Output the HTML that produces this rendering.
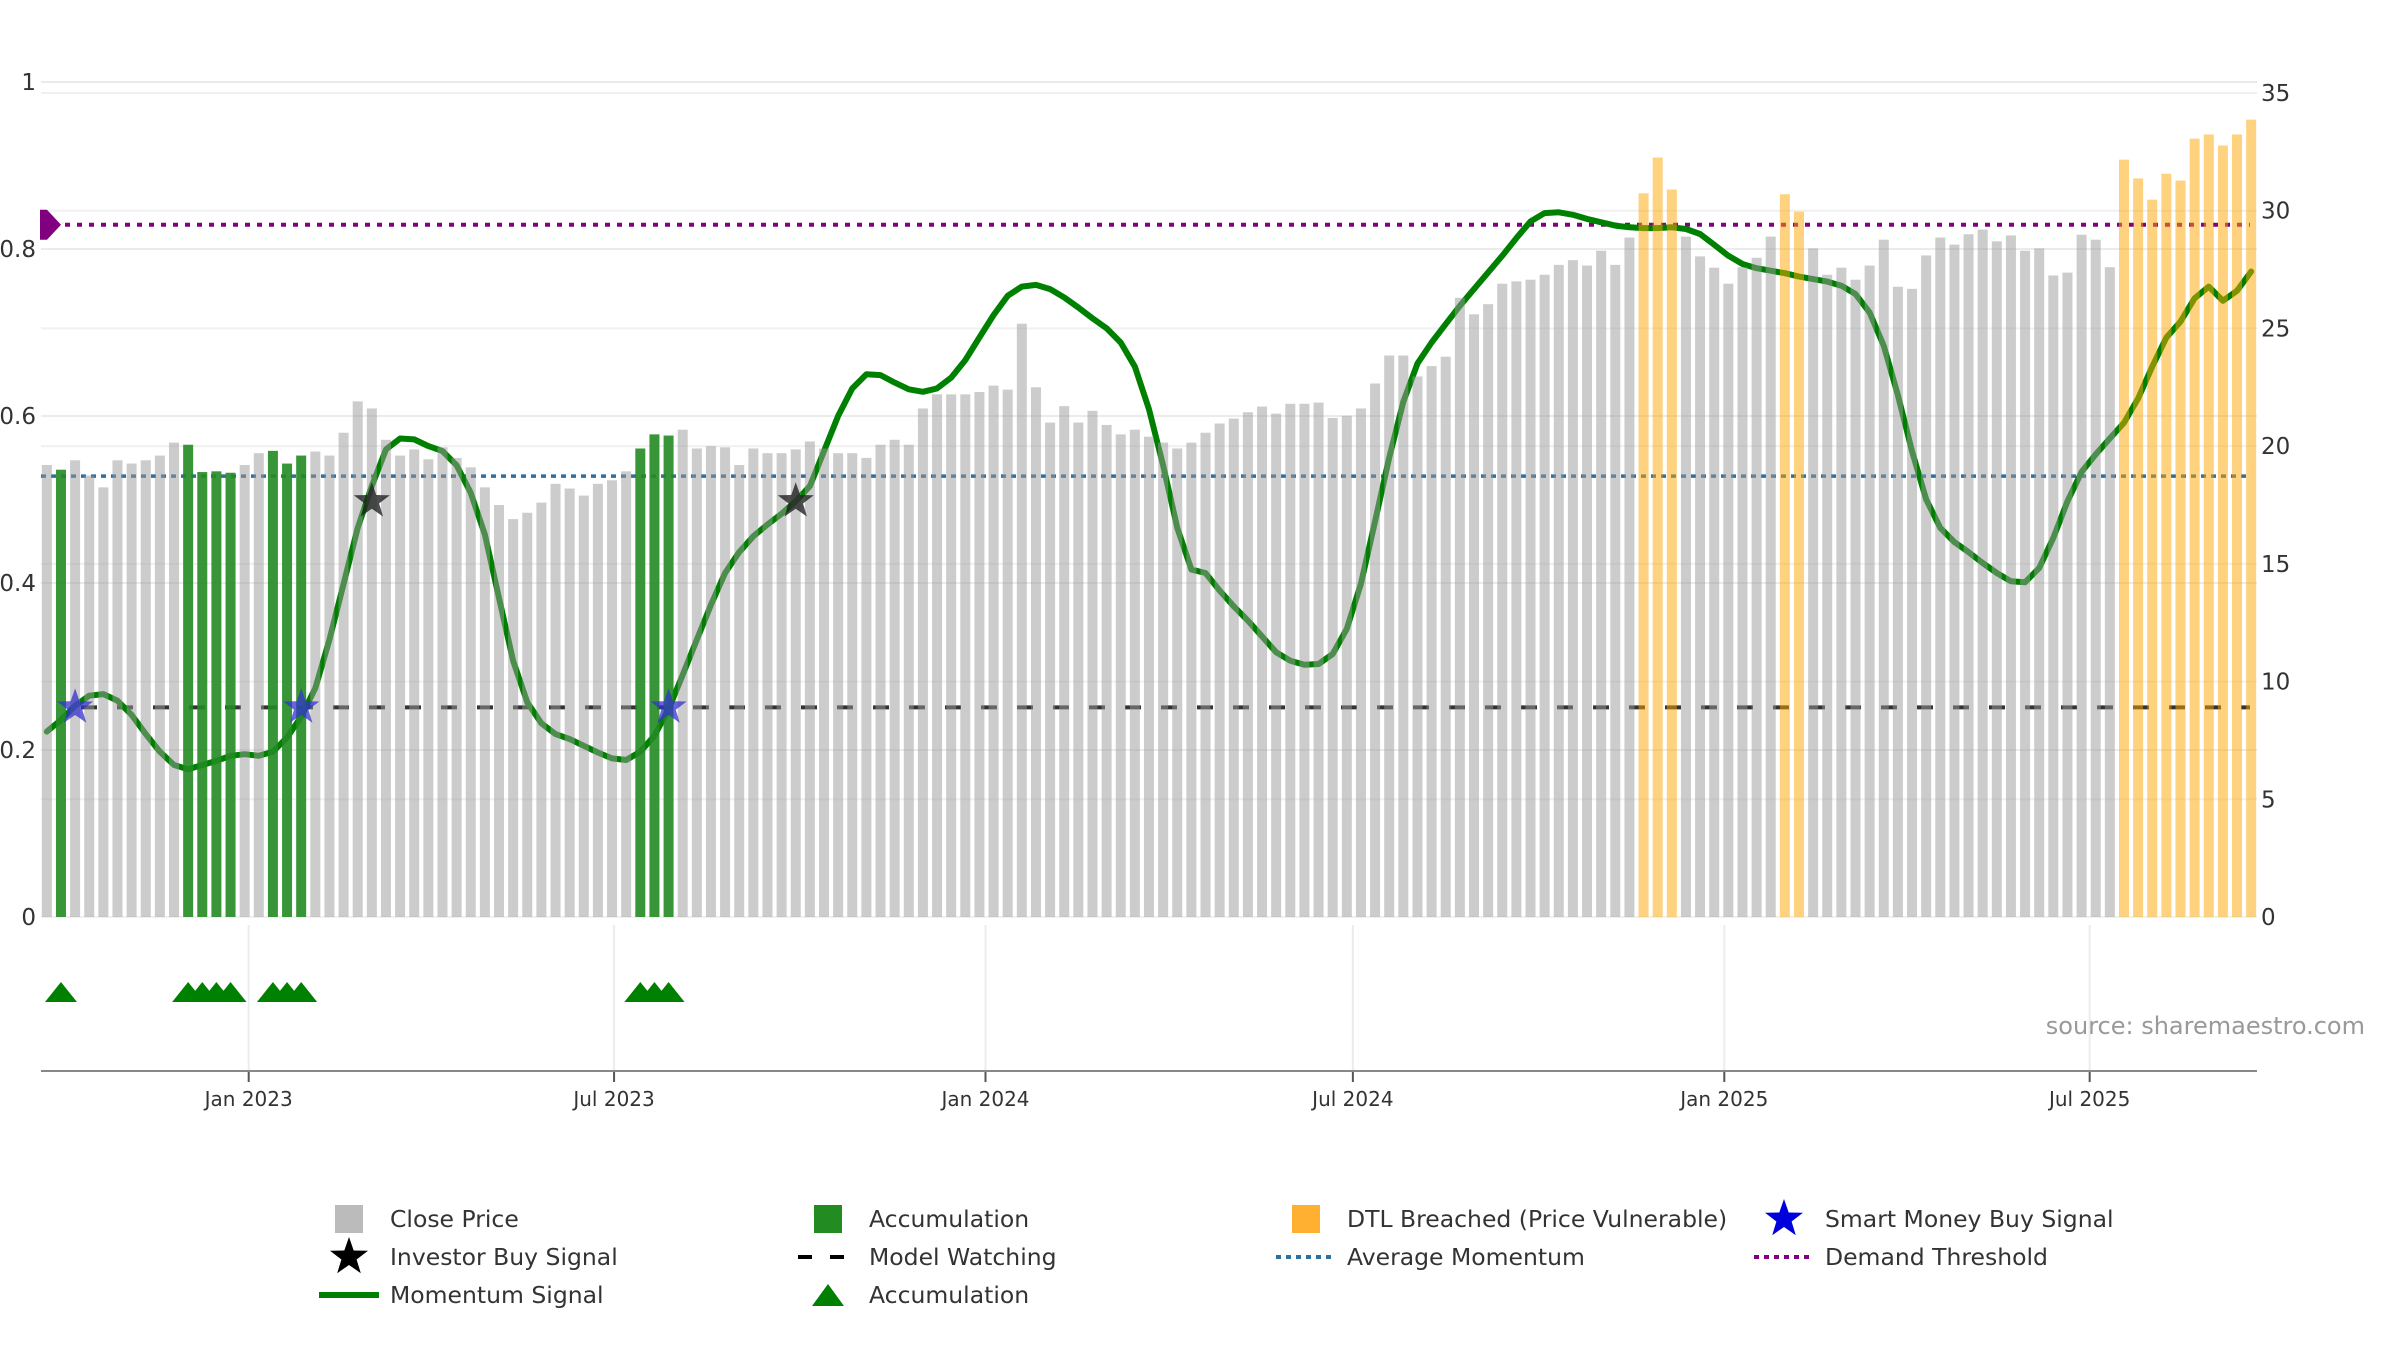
<!DOCTYPE html>
<html><head><meta charset="utf-8"><style>
html,body{margin:0;padding:0;background:#fff;}
svg{display:block;font-family:"DejaVu Sans","Liberation Sans",sans-serif;}
</style></head><body>
<svg id="chart" width="2400" height="1350" viewBox="0 0 2400 1350" xmlns="http://www.w3.org/2000/svg">
<g id="grid"></g>
<g id="lines"></g>
<g id="mom"></g>
<g id="bars"></g>
<g id="marks"></g>
<g id="axes"></g>
<text x="2365" y="1034" text-anchor="end" font-size="24" fill="#999">source: sharemaestro.com</text>
<g id="legend"></g>
</svg>
<script>
const startDate = "2022-09-23";
const closePrice = [19.2,19.0,19.4,18.75,18.25,19.4,19.26,19.4,19.6,20.15,20.06,18.9,18.93,18.87,19.2,19.7,19.8,19.26,19.6,19.77,19.6,20.57,21.9,21.6,20.27,19.6,19.86,19.44,19.95,19.5,19.1,18.25,17.5,16.9,17.17,17.6,18.4,18.2,17.9,18.4,18.55,18.93,19.9,20.5,20.45,20.7,19.9,20.0,19.95,19.2,19.9,19.7,19.7,19.86,20.2,19.9,19.7,19.7,19.5,20.06,20.27,20.06,21.6,22.2,22.2,22.2,22.3,22.57,22.4,25.2,22.5,21.0,21.7,21.0,21.5,20.9,20.5,20.7,20.4,20.15,19.9,20.15,20.57,20.96,21.17,21.44,21.68,21.38,21.8,21.8,21.85,21.2,21.29,21.6,22.66,23.85,23.85,22.96,23.4,23.8,26.3,25.6,26.03,26.9,27.0,27.07,27.28,27.7,27.9,27.67,28.3,27.7,28.86,30.74,32.26,30.9,28.9,28.06,27.58,26.9,27.6,28.0,28.9,30.7,29.96,28.4,27.28,27.58,27.07,27.67,28.77,26.77,26.68,28.1,28.86,28.56,29.0,29.2,28.7,28.95,28.3,28.4,27.25,27.37,28.98,28.77,27.6,32.17,31.37,30.47,31.57,31.28,33.06,33.24,32.77,33.24,33.87];
const momentum = [0.222,0.236,0.253,0.265,0.267,0.259,0.242,0.219,0.198,0.182,0.177,0.182,0.187,0.193,0.195,0.193,0.198,0.215,0.240,0.274,0.332,0.399,0.466,0.516,0.560,0.573,0.572,0.564,0.558,0.541,0.508,0.458,0.382,0.307,0.257,0.232,0.219,0.213,0.205,0.197,0.190,0.188,0.198,0.217,0.249,0.290,0.332,0.374,0.412,0.437,0.456,0.470,0.483,0.498,0.516,0.558,0.600,0.633,0.650,0.649,0.640,0.632,0.629,0.633,0.646,0.667,0.694,0.721,0.744,0.755,0.757,0.752,0.742,0.730,0.717,0.705,0.688,0.659,0.608,0.541,0.466,0.416,0.412,0.391,0.372,0.355,0.336,0.317,0.307,0.302,0.303,0.315,0.345,0.399,0.474,0.550,0.617,0.663,0.688,0.710,0.732,0.752,0.772,0.792,0.813,0.833,0.843,0.844,0.841,0.836,0.832,0.828,0.826,0.825,0.825,0.826,0.824,0.818,0.805,0.792,0.782,0.777,0.774,0.771,0.767,0.764,0.761,0.756,0.746,0.724,0.684,0.625,0.558,0.500,0.466,0.449,0.437,0.424,0.412,0.402,0.401,0.418,0.454,0.498,0.533,0.554,0.573,0.592,0.621,0.659,0.694,0.713,0.741,0.755,0.738,0.750,0.773];
const accumIdx = [1,10,11,12,13,16,17,18,42,43,44];
const dtlIdx = [113,114,115,123,124,147,148,149,150,151,152,153,154,155,156];
const smartIdx = [2,18,44];
const investorIdx = [23,53];
const smartLevel = [0.251,0.251,0.251];
const investorLevel = [0.498,0.498];
const demandThreshold = 0.829;
const avgMomentum = 0.528;
const modelWatching = 0.251;
const leftTicks = [0,0.2,0.4,0.6,0.8,1];
const leftTickLabels = ["0","0.2","0.4","0.6","0.8","1"];
const rightTicks = [0,5,10,15,20,25,30,35];
const xTickDates = ["2023-01-01","2023-07-01","2024-01-01","2024-07-01","2025-01-01","2025-07-01"];
const xTickLabels = ["Jan 2023","Jul 2023","Jan 2024","Jul 2024","Jan 2025","Jul 2025"];

const NS="http://www.w3.org/2000/svg";
const X0=41, X1=2257, Y0=917;
const day0=Date.parse("2023-01-01"), pxDay=2.0186, xJan23=248.7;
const t0=Date.parse(startDate);
function xDate(ms){return xJan23+(ms-day0)/86400000*pxDay;}
function xIdx(i){return xDate(t0+i*7*86400000);}
function yL(v){return Y0-v*835;}
function yR(v){return Y0-v*(824/35);}
function mk(tag,attrs,parent){const e=document.createElementNS(NS,tag);for(const k in attrs)e.setAttribute(k,attrs[k]);parent.appendChild(e);return e;}
const grid=document.getElementById('grid'),lines=document.getElementById('lines'),mom=document.getElementById('mom'),bars=document.getElementById('bars'),marks=document.getElementById('marks'),axes=document.getElementById('axes'),legend=document.getElementById('legend');

leftTicks.forEach((v,k)=>{
  const l=mk('line',{x1:X0,x2:X1,y1:yL(v),y2:yL(v),stroke:'#ebebeb','stroke-width':2},grid);
  
  
  const t=mk('text',{x:36,y:yL(v)+8,'text-anchor':'end','font-size':23,fill:'#333'},axes);
  t.textContent=leftTickLabels[k];
  
  
});
rightTicks.forEach(v=>{
  const l=mk('line',{x1:X0,x2:X1,y1:yR(v),y2:yR(v),stroke:'#f0f0f0','stroke-width':2},grid);
  
  
  const t=mk('text',{x:2261,y:yR(v)+8,'font-size':23,fill:'#333'},axes);
  t.textContent=String(v);
  
  
});
xTickDates.forEach((d,k)=>{
  const x=xDate(Date.parse(d));
  const g=mk('line',{x1:x,x2:x,y1:925,y2:1071,stroke:'#ececec','stroke-width':2},grid);
  
  
  const tk=mk('line',{x1:x,x2:x,y1:1071,y2:1082,stroke:'#555','stroke-width':2},axes);
  
  
  const t=mk('text',{x:x,y:1106,'text-anchor':'middle','font-size':20,fill:'#333'},axes);
  t.textContent=xTickLabels[k];
  
  
});
const ax=mk('line',{x1:X0,x2:X1,y1:1071,y2:1071,stroke:'#888','stroke-width':2},axes);



const dl=mk('line',{x1:X0,x2:2250,y1:yL(demandThreshold),y2:yL(demandThreshold),stroke:'#800080','stroke-width':4,'stroke-dasharray':'5 7'},lines);


const am=mk('line',{x1:X0,x2:2250,y1:yL(avgMomentum),y2:yL(avgMomentum),stroke:'#2f6f9f','stroke-width':3.5,'stroke-dasharray':'5 5'},lines);


const mw=mk('line',{x1:X0+40,x2:2250,y1:yL(modelWatching),y2:yL(modelWatching),stroke:'#333','stroke-width':4,'stroke-dasharray':'16 20'},lines);


const yd=yL(demandThreshold);
const dm=mk('polygon',{points:`40,${yd-15} 47,${yd-15} 61,${yd} 47,${yd+15} 40,${yd+15}`,fill:'#800080'},lines);



let d='';momentum.forEach((v,i)=>{d+=(i?'L':'M')+xIdx(i).toFixed(1)+','+yL(v).toFixed(1);});
const ml=mk('path',{d:d,fill:'none',stroke:'#008000','stroke-width':6,'stroke-linejoin':'round','stroke-linecap':'round'},mom);



closePrice.forEach((v,i)=>{
  let fill='#999',op=0.5,name='close-price-bar';
  if(accumIdx.includes(i)){fill='#228B22';op=0.9;name='accumulation-bar';}
  else if(dtlIdx.includes(i)){fill='#FFA500';op=0.5;name='dtl-breached-bar';}
  const r=mk('rect',{x:xIdx(i)-5,y:yR(v),width:10,height:Y0-yR(v),fill:fill,'fill-opacity':op},bars);
  
  
});

function starPts(cx,cy,R){const r=R*0.4;let p=[];for(let k=0;k<10;k++){const a=-Math.PI/2+k*Math.PI/5;const rr=k%2?r:R;p.push((cx+rr*Math.cos(a)).toFixed(1)+','+(cy+rr*Math.sin(a)).toFixed(1));}return p.join(' ');}
smartIdx.forEach((i,k)=>{
  const s=mk('polygon',{points:starPts(xIdx(i),yL(smartLevel[k]),19),fill:'#3333cc','fill-opacity':0.75},marks);
  
  
});
investorIdx.forEach((i,k)=>{
  const s=mk('polygon',{points:starPts(xIdx(i),yL(investorLevel[k]),19),fill:'#222','fill-opacity':0.8},marks);
  
  
});
accumIdx.forEach(i=>{
  const x=xIdx(i);
  const t=mk('polygon',{points:`${x-16},1002 ${x},982 ${x+16},1002`,fill:'#008000'},marks);
  
  
});

const cols=[349,828,1306,1784], rows=[1227,1265,1303];
const items=[
 [0,0,'sq','#bbbbbb','Close Price'],[1,0,'sq','#228B22','Accumulation'],[2,0,'sq','#FFB030','DTL Breached (Price Vulnerable)'],[3,0,'star','#0000dd','Smart Money Buy Signal'],
 [0,1,'star','#000','Investor Buy Signal'],[1,1,'dash','#000','Model Watching'],[2,1,'dot','#2f6f9f','Average Momentum'],[3,1,'dot','#800080','Demand Threshold'],
 [0,2,'line','#008000','Momentum Signal'],[1,2,'tri','#008000','Accumulation']];
items.forEach(it=>{
  const g=mk('g',{},legend);
  
  
  const cx=cols[it[0]], cy=rows[it[1]]-8, c=it[3];
  if(it[2]==='sq') mk('rect',{x:cx-14,y:cy-14,width:28,height:28,fill:c},g);
  else if(it[2]==='star') mk('polygon',{points:starPts(cx,cy,20),fill:c},g);
  else if(it[2]==='dash') mk('line',{x1:cx-30,x2:cx+30,y1:cy,y2:cy,stroke:c,'stroke-width':4,'stroke-dasharray':'14 18'},g);
  else if(it[2]==='dot') mk('line',{x1:cx-30,x2:cx+30,y1:cy,y2:cy,stroke:c,'stroke-width':4,'stroke-dasharray':'5 5'},g);
  else if(it[2]==='line') mk('line',{x1:cx-30,x2:cx+30,y1:cy,y2:cy,stroke:c,'stroke-width':6},g);
  else mk('polygon',{points:`${cx-16},${cy+11} ${cx},${cy-11} ${cx+16},${cy+11}`,fill:c},g);
  const t=mk('text',{x:cx+41,y:rows[it[1]],'font-size':23.5,fill:'#333'},g);
  t.textContent=it[4];
});
</script>
</body></html>
